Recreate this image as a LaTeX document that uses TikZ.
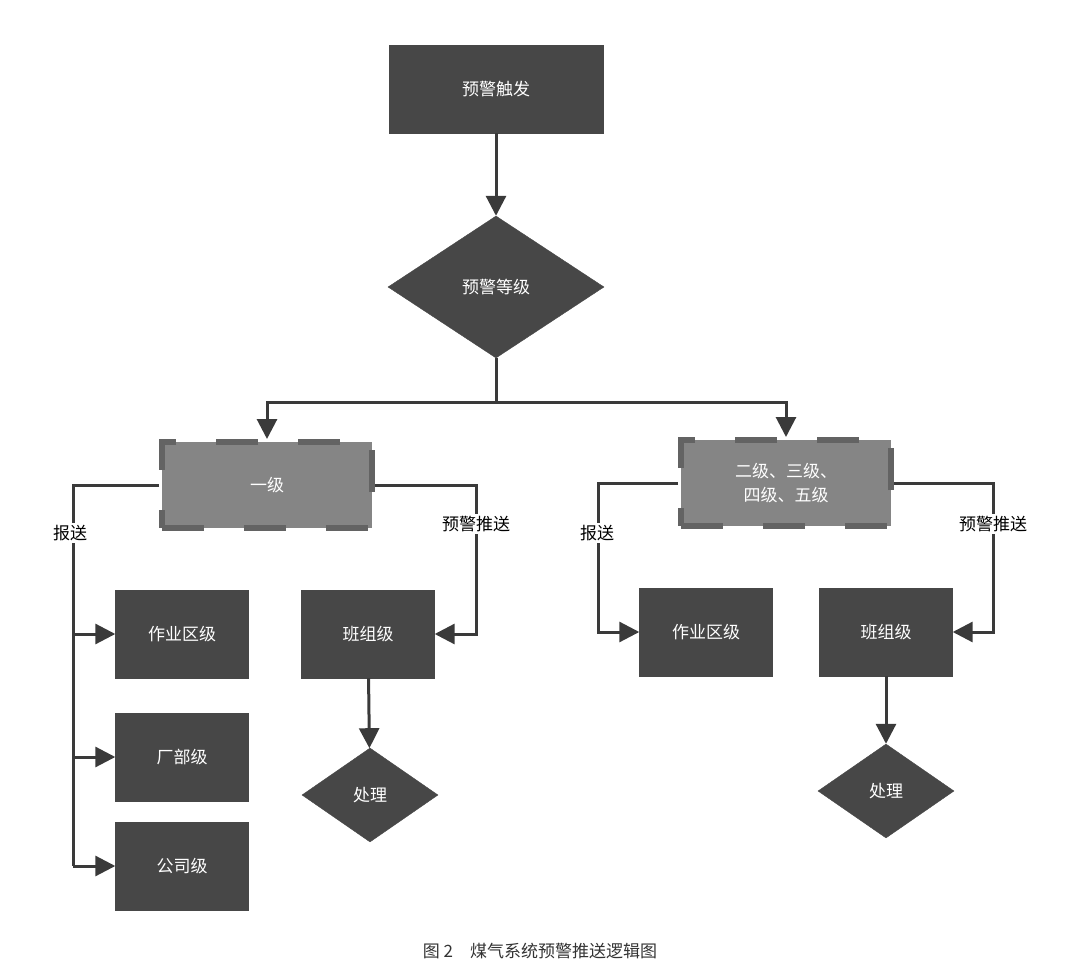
\documentclass[tikz,border=0pt]{standalone}
\usepackage{fontspec}
\setmainfont{Noto Sans CJK SC}
\usetikzlibrary{shapes.geometric,arrows.meta}
\definecolor{box}{HTML}{474747}
\definecolor{lv}{HTML}{858585}
\definecolor{ln}{HTML}{3A3A3A}
\begin{document}
\begin{tikzpicture}[x=1pt,y=-1pt,
  every node/.style={font=\fontsize{17}{24}\selectfont},
  rbox/.style={draw=box,fill=box,text=white,minimum width=133pt,minimum height=88pt},
  dia/.style={diamond,draw=box,fill=box,text=white,aspect=1.45,inner sep=0pt},
  lvl/.style={fill=lv,text=white,draw=box!85,line width=6pt,dash pattern=on 42pt off 40pt,minimum width=210pt,minimum height=86pt,align=center},
  con/.style={draw=ln,line width=3pt},
  arr/.style={con,-{Triangle[length=20pt,width=20pt]}},
  lab/.style={fill=white,text=black,inner sep=2pt}]
\useasboundingbox (0,0) rectangle (1080,979);
\node[rbox,minimum width=214pt] (trig) at (496,89) {预警触发};
\node[dia,minimum width=216pt,minimum height=142pt] (grade) at (496,287) {预警等级};
\node[lvl] (l1) at (267,485) {一级};
\node[lvl] (l2) at (786,483) {二级、三级、\\四级、五级};
\node[rbox] (a1) at (182,634) {作业区级};
\node[rbox] (a2) at (182,757) {厂部级};
\node[rbox] (a3) at (182,866) {公司级};
\node[rbox] (b1) at (368,634) {班组级};
\node[dia,minimum width=136pt,minimum height=94pt] (c1) at (370,795) {处理};
\node[rbox] (a4) at (706,632) {作业区级};
\node[rbox] (b2) at (886,632) {班组级};
\node[dia,minimum width=136pt,minimum height=94pt] (c2) at (886,791) {处理};
\coordinate (j) at (496,402);
\draw[arr] (trig) -- (grade);
\draw[con] (grade.south) -- (j);
\draw[arr] (j) -| (l1.north);
\draw[arr] (j) -| (l2.north);
% left report
\coordinate (lx) at (73,866);
\draw[con] (l1.west) -| (lx);
\draw[arr] (73,634) -- (a1.west);
\draw[arr] (73,757) -- (a2.west);
\draw[arr] (lx) -- (a3.west);
\node[lab] at (70,533) {报送};
\draw[arr] (l1.east) -| (476,634) -- (b1.east);
\node[lab] at (476,524) {预警推送};
\draw[arr] (b1) -- (c1);
% right
\draw[arr] (l2.west) -| (598,632) -- (a4.west);
\node[lab] at (597,533) {报送};
\draw[arr] (l2.east) -| (993,632) -- (b2.east);
\node[lab] at (993,524) {预警推送};
\draw[arr] (b2) -- (c2);
\node[text=black!80] at (540,951) {图 2\quad 煤气系统预警推送逻辑图};
\end{tikzpicture}
\end{document}
